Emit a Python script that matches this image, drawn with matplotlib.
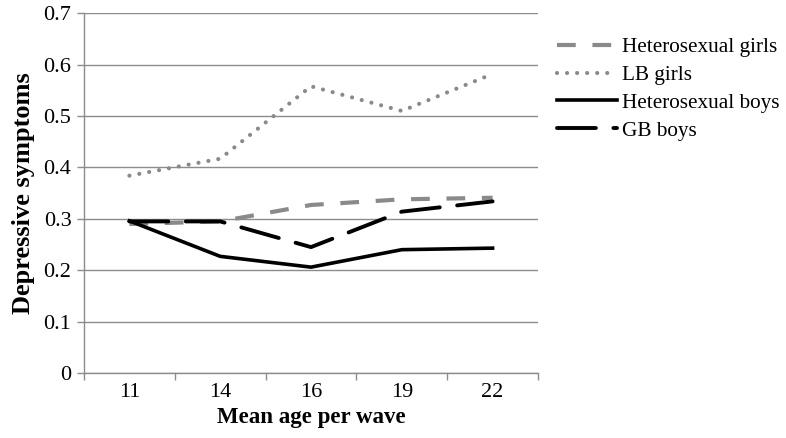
import matplotlib
matplotlib.use("Agg")
import matplotlib.pyplot as plt

ages = ["11", "14", "16", "19", "22"]
het_girls = [0.290, 0.295, 0.327, 0.338, 0.341]
lb_girls = [0.384, 0.417, 0.558, 0.510, 0.582]
het_boys = [0.296, 0.227, 0.206, 0.240, 0.243]
gb_boys = [0.295, 0.295, 0.245, 0.314, 0.334]
labels = ["Heterosexual girls", "LB girls", "Heterosexual boys", "GB boys"]

plt.rcParams['font.family'] = ['Liberation Serif', 'DejaVu Serif']

fig = plt.figure(figsize=(7.86, 4.38), dpi=100)
ax = fig.add_axes([84/786, 1-373/438, (538-84)/786, (373-13.3)/438])

x = list(range(len(ages)))
gray = '#8a8a8a'
axc = '#8c8c8c'
ax.plot(x, het_girls, color=gray, lw=3.0, linestyle=(0, (4.5, 4.0)), label=labels[0], solid_capstyle='butt', dash_capstyle='butt', zorder=3)
ax.plot(x, lb_girls, color=gray, lw=3.0, linestyle=(0, (0.01, 2.4)), dash_capstyle='round', label=labels[1], zorder=3)
ax.plot(x, het_boys, color='black', lw=2.6, linestyle='-', label=labels[2], zorder=4)
ax.plot(x, gb_boys, color='black', lw=2.8, linestyle=(0, (10, 4.5)), dash_capstyle='round', label=labels[3], zorder=4)

ax.set_xlim(-0.5, len(ages) - 0.5)
ax.set_ylim(0, 0.7)
ax.set_yticks([0, 0.1, 0.2, 0.3, 0.4, 0.5, 0.6, 0.7])
ax.set_yticklabels(["0", "0.1", "0.2", "0.3", "0.4", "0.5", "0.6", "0.7"])
ax.set_xticks(x)
ax.set_xticklabels(ages)
ax.set_xticks([i - 0.5 for i in range(len(ages) + 1)], minor=True)
ax.tick_params(axis='x', which='major', length=0, labelsize=16, pad=7)
ax.tick_params(axis='x', which='minor', length=5, color=axc, width=1)
ax.tick_params(axis='y', length=5, color=axc, width=1, labelsize=16, pad=4)

ax.yaxis.grid(True, color=axc, lw=1)
ax.set_axisbelow(True)
for s in ['top', 'right']:
    ax.spines[s].set_visible(False)
for s in ['left', 'bottom']:
    ax.spines[s].set_color(axc)
    ax.spines[s].set_linewidth(1)

ax.set_xlabel("Mean age per wave", fontsize=16.5, fontweight='bold', labelpad=4)
ax.set_ylabel("Depressive symptoms", fontsize=19, fontweight='bold', labelpad=6)

fig.legend(loc='upper left', bbox_to_anchor=(538/786, 1-18/438), frameon=False,
           fontsize=15.3, handlelength=2.8, handletextpad=0.25, labelspacing=0.38)

fig.savefig("out.png", dpi=100)
